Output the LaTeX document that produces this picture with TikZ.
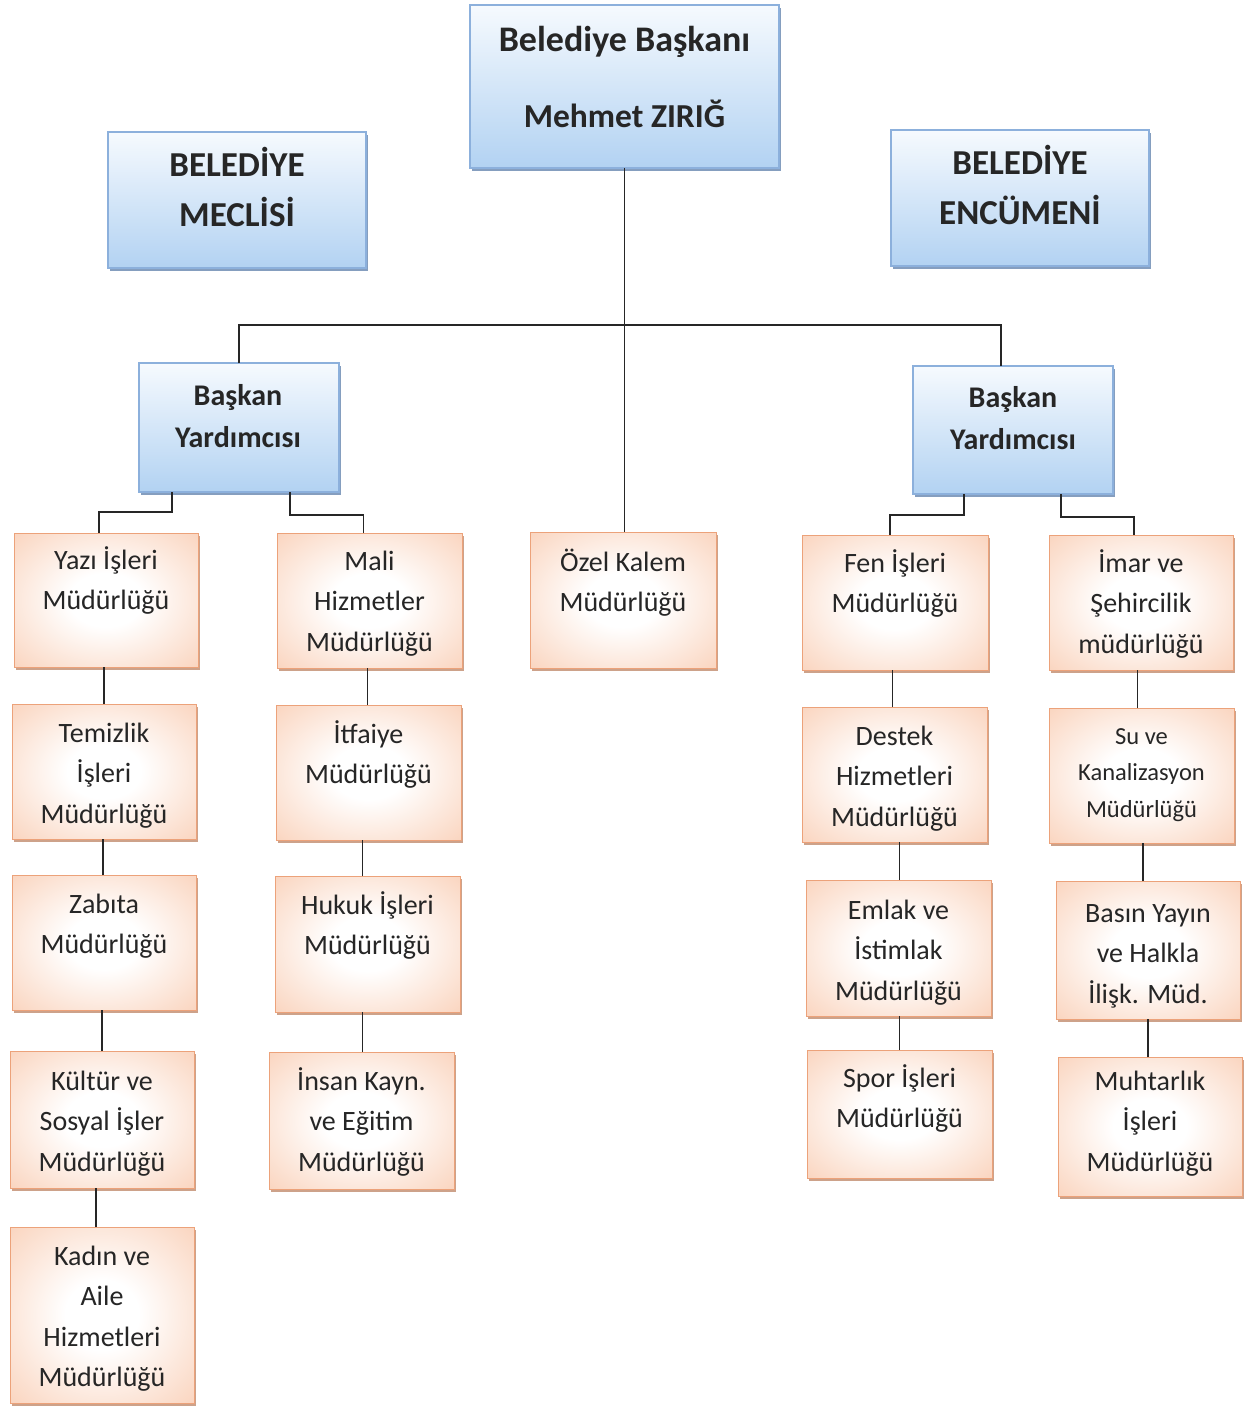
\documentclass[tikz,border=0pt]{standalone}
\usepackage{fontspec}
\setmainfont{Carlito}
\usetikzlibrary{shadows}
\definecolor{btop}{RGB}{246,250,254}
\definecolor{bbot}{RGB}{178,210,242}
\definecolor{bborder}{RGB}{140,176,220}
\definecolor{bshadow}{RGB}{120,148,185}
\definecolor{oedge}{RGB}{245,170,128}
\definecolor{omid}{RGB}{250,212,190}
\definecolor{oborder}{RGB}{236,162,122}
\definecolor{oshadow}{RGB}{200,152,126}
\definecolor{txt}{RGB}{38,38,38}
\pgfdeclareradialshading{oshade}{\pgfpoint{0bp}{0bp}}{color(0bp)=(white); color(10bp)=(white); color(36bp)=(omid); color(52bp)=(oedge); color(75bp)=(oedge)}
\tikzset{
  bbox/.style={draw=bborder, line width=1.2pt, top color=btop, bottom color=bbot, inner sep=0pt, outer sep=0pt,
    drop shadow={shadow xshift=2pt, shadow yshift=-3pt, fill=bshadow, opacity=0.9}},
  obox/.style={draw=oborder, line width=1pt, shading=oshade, inner sep=0pt, outer sep=0pt,
    drop shadow={shadow xshift=2pt, shadow yshift=-3pt, fill=oshadow, opacity=0.9}},
  otext/.style={align=center, inner sep=0pt, text=txt, font=\fontsize{28}{40.5}\selectfont},
  btext/.style={align=center, inner sep=0pt, text=txt},
  conn/.style={draw=black!85, line width=1.8pt}
}
\newcommand\OBox[7]{%
  \node[obox, minimum width={(#4-#2)*1pt}, minimum height={(#5-#3)*1pt}] (#1) at ({(#2+#4)/2},{(#3+#5)/2}) {};
  \node[otext, anchor=north] (#1-t) at ({(#2+#4)/2},{#6-26}) {\rule{0pt}{26pt}#7};}
\newcommand\BBox[5]{%
  \node[bbox, minimum width={(#4-#2)*1pt}, minimum height={(#5-#3)*1pt}] (#1) at ({(#2+#4)/2},{(#3+#5)/2}) {};}
\newcommand\vconn[3]{\draw[conn] (#1.north) ++(#3,0) coordinate (tmp) -- (tmp |- #2.south);}
\begin{document}
\begin{tikzpicture}[x=1pt,y=-1pt]
\useasboundingbox (0,0) rectangle (1245,1406);
\fill[white] (0,0) rectangle (1245,1406);

% blue boxes
\BBox{top}{470}{5}{779}{168}
\node[btext, font=\fontsize{36}{76}\selectfont\bfseries, anchor=north] (top-t) at (624.5,{51-34}) {\rule{0pt}{34pt}Belediye Başkanı\\{\fontsize{33.5}{76}\selectfont Mehmet ZIRIĞ}};
\BBox{meclis}{108}{132}{366}{268}
\node[btext, font=\fontsize{35}{50}\selectfont\bfseries, anchor=north] (meclis-t) at (237,{176-34}) {\rule{0pt}{34pt}BELEDİYE\\MECLİSİ};
\BBox{encumen}{891}{130}{1149}{266}
\node[btext, font=\fontsize{35}{50}\selectfont\bfseries, anchor=north] (encumen-t) at (1020,{174-34}) {\rule{0pt}{34pt}BELEDİYE\\ENCÜMENİ};
\BBox{vpL}{139}{363}{339}{492}
\node[btext, font=\fontsize{30}{42}\selectfont\bfseries, anchor=north] (vpL-t) at (238,{405-29}) {\rule{0pt}{29pt}Başkan\\Yardımcısı};
\BBox{vpR}{913}{366}{1113}{494}
\node[btext, font=\fontsize{30}{42}\selectfont\bfseries, anchor=north] (vpR-t) at (1013,{407-29}) {\rule{0pt}{29pt}Başkan\\Yardımcısı};

% orange boxes
\OBox{yazi}{14}{533}{198}{667}{569}{Yazı İşleri\\Müdürlüğü}
\OBox{temiz}{12}{704}{196}{839}{742}{Temizlik\\İşleri\\Müdürlüğü}
\OBox{zabita}{12}{875}{196}{1010}{913}{Zabıta\\Müdürlüğü}
\OBox{kultur}{10}{1051}{194}{1188}{1090}{Kültür ve\\Sosyal İşler\\Müdürlüğü}
\OBox{kadin}{10}{1227}{194}{1403}{1265}{Kadın ve\\Aile\\Hizmetleri\\Müdürlüğü}
\OBox{mali}{277}{533}{462}{668}{570}{Mali\\Hizmetler\\Müdürlüğü}
\OBox{itfaiye}{276}{705}{461}{840}{743}{İtfaiye\\Müdürlüğü}
\OBox{hukuk}{275}{876}{460}{1012}{914}{Hukuk İşleri\\Müdürlüğü}
\OBox{insan}{269}{1052}{454}{1189}{1090}{İnsan Kayn.\\ve Eğitim\\Müdürlüğü}
\OBox{ozel}{530}{532}{716}{668}{571}{Özel Kalem\\Müdürlüğü}
\OBox{fen}{802}{535}{988}{670}{572}{Fen İşleri\\Müdürlüğü}
\OBox{destek}{802}{707}{987}{842}{745}{Destek\\Hizmetleri\\Müdürlüğü}
\OBox{emlak}{806}{880}{991}{1016}{919}{Emlak ve\\İstimlak\\Müdürlüğü}
\OBox{spor}{807}{1050}{992}{1178}{1087}{Spor İşleri\\Müdürlüğü}
\OBox{imar}{1049}{535}{1233}{670}{572}{İmar ve\\Şehircilik\\müdürlüğü}
\node[obox, minimum width=185pt, minimum height=135pt] (su) at (1141.5,775.5) {};
\node[otext, font=\fontsize{24.5}{36.5}\selectfont, anchor=north] (su-t) at (1141.5,{744-23}) {\rule{0pt}{23pt}Su ve\\Kanalizasyon\\Müdürlüğü};
\OBox{basin}{1056}{881}{1240}{1019}{922}{Basın Yayın\\ve Halkla\\İlişk. Müd.}
\OBox{muhtar}{1058}{1057}{1242}{1196}{1090}{Muhtarlık\\İşleri\\Müdürlüğü}

% connectors
\coordinate (bus) at (624,325);
\draw[conn] (top.south) -- (top.south |- ozel.north);
\draw[conn] (vpL.north) |- (bus) -| ([xshift=-12pt]vpR.north);
\draw[conn] ([xshift=-67pt]vpL.south) -- ++(0,20) -| ([xshift=-7pt]yazi.north);
\draw[conn] ([xshift=51pt]vpL.south) -- ++(0,23) -| ([xshift=-6pt]mali.north);
\draw[conn] ([xshift=-49pt]vpR.south) -- ++(0,21) -| ([xshift=-5pt]fen.north);
\draw[conn] ([xshift=48pt]vpR.south) -- ++(0,23) -| ([xshift=-7pt]imar.north);
\vconn{temiz}{yazi}{0}
\vconn{zabita}{temiz}{-1}
\vconn{kultur}{zabita}{0}
\vconn{kadin}{kultur}{-6}
\vconn{itfaiye}{mali}{-1}
\vconn{hukuk}{itfaiye}{-5}
\vconn{insan}{hukuk}{1}
\vconn{destek}{fen}{-2}
\vconn{emlak}{destek}{1}
\vconn{spor}{emlak}{0}
\vconn{su}{imar}{-4}
\vconn{basin}{su}{-5}
\vconn{muhtar}{basin}{-2}
\end{tikzpicture}
\end{document}
